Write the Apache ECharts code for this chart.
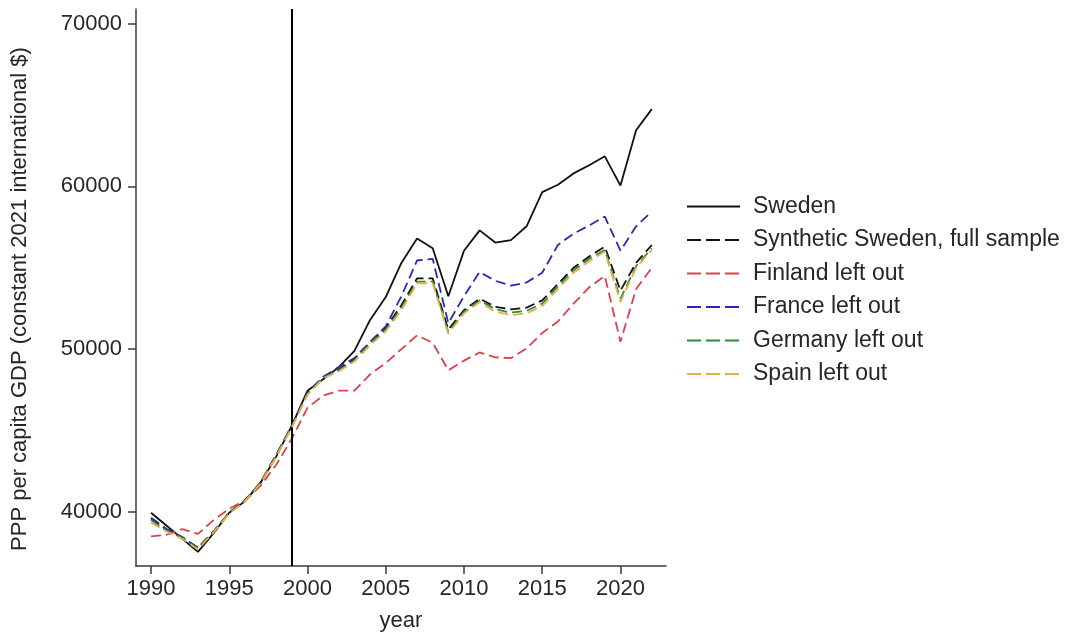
<!DOCTYPE html>
<html>
<head>
<meta charset="utf-8">
<script src="https://cdn.jsdelivr.net/npm/echarts@6/dist/echarts.min.js"></script>
<style>
  html, body { margin: 0; padding: 0; background: #ffffff; }
  #chart { width: 1071px; height: 637px; }
</style>
</head>
<body>
<div id="chart"></div>
<script>
// Years 1990–2022
const years = [1990,1991,1992,1993,1994,1995,1996,1997,1998,1999,2000,2001,2002,2003,2004,2005,2006,2007,2008,2009,2010,2011,2012,2013,2014,2015,2016,2017,2018,2019,2020,2021,2022];

// PPP per capita GDP, constant 2021 international $
const sweden    = [39950,39150,38350,37550,38700,39950,40650,41800,43400,45300,47450,48150,48900,49900,51800,53200,55300,56800,56200,53250,56050,57300,56550,56700,57550,59650,60100,60800,61300,61850,60050,63450,64750];
const synthFull = [39600,38900,38450,37800,38800,39950,40700,41800,43500,45300,47300,48250,48750,49400,50400,51300,52700,54350,54350,51200,52400,53100,52600,52450,52550,53000,54000,55000,55700,56300,53600,55300,56400];
const finlandOut = [38500,38600,38950,38650,39500,40200,40700,41600,42900,44500,46400,47150,47450,47450,48450,49150,50000,50850,50400,48700,49300,49800,49500,49450,50050,51000,51700,52800,53800,54500,50450,53700,55000];
const franceOut  = [39650,38950,38450,37800,38800,39950,40700,41800,43500,45300,47350,48300,48900,49450,50450,51400,53250,55450,55550,51600,53250,54750,54200,53900,54100,54700,56400,57100,57600,58150,56050,57550,58450];
const germanyOut = [39500,38850,38400,37750,38800,39950,40700,41800,43450,45250,47250,48250,48700,49300,50350,51200,52550,54150,54150,51050,52300,53000,52450,52250,52350,52800,53850,54850,55550,56100,53100,55100,56200];
const spainOut   = [39350,38800,38350,37700,38750,39900,40650,41750,43400,45200,47200,48200,48650,49250,50250,51100,52400,54050,54050,50950,52200,52900,52300,52100,52200,52650,53700,54700,55400,56000,52900,55000,56100];

const seriesNames = ['Sweden','Synthetic Sweden, full sample','Finland left out','France left out','Germany left out','Spain left out'];
const xTicks = [1990,1995,2000,2005,2010,2015,2020];
const yTicks = [40000,50000,60000,70000];
const treatmentYear = 1999;

const colors = ['#111111','#111111','#e0404c','#2a2ab8','#2a8c3a','#e9ad45'];
const values = [sweden, synthFull, finlandOut, franceOut, germanyOut, spainOut];

const FONT = '"Liberation Sans", Arial, sans-serif';
const TXT = '#262626';

const series = values.map((vals, i) => {
  const s = {
    name: seriesNames[i],
    type: 'line',
    data: years.map((y, k) => [y, vals[k]]),
    symbol: 'none',
    showSymbol: false,
    animation: false,
    z: 2 + i,
    lineStyle: {
      color: colors[i],
      width: 1.8,
      type: i === 0 ? 'solid' : [10, 5]
    },
    itemStyle: { color: colors[i] }
  };
  if (i === 0) {
    // vertical marker at the treatment year
    s.markLine = {
      silent: true,
      symbol: ['none', 'none'],
      label: { show: false },
      lineStyle: { color: '#000000', width: 2, type: 'solid' },
      data: [{ xAxis: treatmentYear }]
    };
  }
  return s;
});

const chart = echarts.init(document.getElementById('chart'), null, { renderer: 'canvas' });
chart.setOption({
  backgroundColor: '#ffffff',
  animation: false,
  grid: { left: 136, right: 405, top: 9, bottom: 71 },
  xAxis: {
    type: 'value',
    min: 1989.04,
    max: 2022.91,
    name: 'year',
    nameLocation: 'middle',
    nameGap: 44,
    nameTextStyle: { fontFamily: FONT, fontSize: 22, color: TXT },
    splitLine: { show: false },
    axisLine: { show: true, lineStyle: { color: '#3a3a3a', width: 1.5 } },
    axisTick: { show: true, length: 8, customValues: xTicks, lineStyle: { color: '#3a3a3a', width: 1.5 } },
    axisLabel: { customValues: xTicks, margin: 12, fontFamily: FONT, fontSize: 22, color: TXT, formatter: v => String(v) }
  },
  yAxis: {
    type: 'value',
    min: 36680,
    max: 70900,
    splitLine: { show: false },
    axisLine: { show: true, lineStyle: { color: '#3a3a3a', width: 1.5 } },
    axisTick: { show: true, length: 8, customValues: yTicks, lineStyle: { color: '#3a3a3a', width: 1.5 } },
    axisLabel: { customValues: yTicks, margin: 14, fontFamily: FONT, fontSize: 22, color: TXT, formatter: v => String(v) }
  },
  legend: {
    orient: 'vertical',
    left: 686,
    top: 195,
    padding: 0,
    itemWidth: 53,
    itemHeight: 14,
    itemGap: 10.5,
    textStyle: { fontFamily: FONT, fontSize: 23, color: TXT, lineHeight: 23, padding: [0, 0, 0, 8] },
    data: seriesNames.map((n, i) => ({
      name: n,
      itemStyle: { opacity: 0 },
      lineStyle: { type: i === 0 ? 'solid' : [14, 5], width: 2, opacity: 1 }
    }))
  },
  graphic: [{
    type: 'text',
    x: 20,
    y: 299,
    rotation: Math.PI / 2,
    style: {
      text: 'PPP per capita GDP (constant 2021 international $)',
      fontFamily: FONT,
      fontSize: 22,
      fill: TXT,
      align: 'center',
      verticalAlign: 'middle'
    }
  }],
  series: series
});
</script>
</body>
</html>
